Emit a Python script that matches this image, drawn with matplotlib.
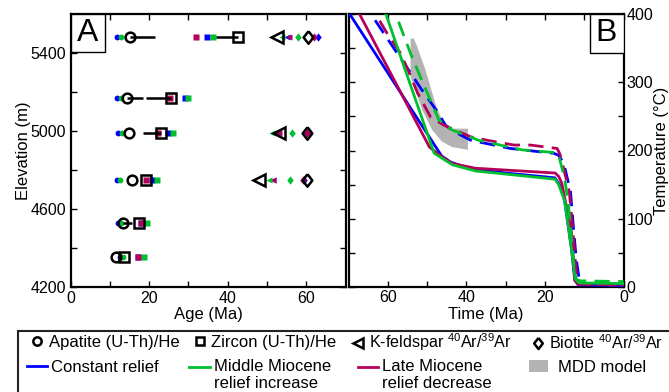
import numpy as np
import matplotlib
matplotlib.use("Agg")
import matplotlib.pyplot as plt
from matplotlib.lines import Line2D
from matplotlib.patches import Patch, Rectangle
from matplotlib.legend_handler import HandlerLine2D

plt.rcParams['font.family'] = ['Liberation Sans', 'DejaVu Sans']
plt.rcParams['mathtext.default'] = 'regular'

# ---------------- colours ----------------
C_BLUE = '#0000FF'
C_GREEN = '#00C030'
C_MAG = '#B5005A'
C_GRAY = '#B3B3B3'

# ---------------- Panel A data ----------------
elevation = [5480, 5170, 4990, 4750, 4530, 4355]
nan = np.nan
# observed ages (black open symbols)
apatite_obs = [15.2, 14.4, 14.9, 15.7, 13.3, 11.5]
apatite_err_hi = [6.4, 4.1, 0.0, 0.0, 2.4, 0.0]
zircon_obs = [42.7, 25.6, 23.0, 19.2, 17.5, 13.6]
zircon_err_lo = [5.7, 6.4, 4.6, 0.0, 0.0, 0.0]
kfs_obs = [52.6, nan, 53.0, 48.1, nan, nan]
bio_obs = [60.4, nan, 60.3, 60.2, nan, nan]
# modelled ages
apatite_const = [11.9, 11.9, 12.2, 11.9, 12.1, 12.5]
apatite_mid = [12.9, 12.9, 13.1, 12.7, 12.9, 13.3]
zircon_const = [34.7, 29.1, 24.7, 20.7, 18.0, 17.3]
zircon_late = [31.9, 25.2, 22.2, 19.2, 18.0, 17.3]
zircon_mid = [36.2, 29.8, 26.0, 21.9, 19.5, 18.6]
kfs_const = [55.1, nan, 52.6, 51.5, nan, nan]
kfs_late = [55.6, nan, 53.0, 51.5, nan, nan]
kfs_mid = [53.8, nan, 51.3, 50.5, nan, nan]
bio_const = [63.0, nan, 60.3, 59.5, nan, nan]
bio_late = [62.1, nan, 60.1, 59.2, nan, nan]
bio_mid = [57.9, nan, 56.5, 55.8, nan, nan]

# ---------------- Panel B data ----------------
const_solid_t = [72.0, 69.7, 46.3, 44.0, 40.0, 30.0, 17.5, 16.3, 15.0, 13.2, 12.4, 11.5, 0.0]
const_solid_T = [420, 400, 192, 183, 175, 167, 160, 150, 127, 54, 10, 3, 2]
late_solid_t = [70.0, 67.2, 49.4, 46.3, 43.6, 37.7, 17.4, 16.5, 15.7, 13.2, 12.4, 11.5, 0.0]
late_solid_T = [437, 400, 205, 191, 181, 174, 167, 162, 152, 79, 10, 4, 3]
mid_solid_t = [62.0, 60.5, 48.2, 46.0, 43.5, 37.7, 17.4, 16.5, 15.0, 13.2, 12.3, 11.3, 0.0]
mid_solid_T = [418, 400, 196, 188, 179, 170, 158, 150, 127, 54, 12, 6, 5]

const_dash_t = [66.0, 64.3, 57.9, 54.1, 51.6, 47.4, 45.3, 43.2, 38.9, 28.8, 21.2, 17.8, 16.5, 15.2, 13.5, 12.7, 12.0, 11.5, 11.1, 10.0, 0.0]
const_dash_T = [425, 400, 345, 313, 291, 257, 237, 228, 215, 203, 198, 196, 193, 181, 140, 84, 40, 20, 6, 4, 4]
late_dash_t = [65.0, 63.1, 60.1, 56.7, 54.1, 52.4, 49.1, 45.7, 38.9, 34.7, 27.9, 23.7, 16.9, 16.2, 15.3, 13.8, 13.0, 12.3, 11.8, 11.0, 0.0]
late_dash_T = [433, 400, 371, 342, 308, 284, 249, 237, 220, 215, 208, 208, 203, 195, 175, 140, 90, 40, 10, 4, 3]
mid_dash_t = [59.0, 58.0, 54.2, 51.2, 47.0, 43.6, 36.9, 25.9, 17.5, 16.6, 16.2, 15.0, 14.0, 13.2, 12.5, 12.0, 11.0, 0.0]
mid_dash_T = [427, 400, 342, 301, 245, 230, 215, 201, 197, 195, 186, 160, 120, 70, 25, 11, 9, 8]

mdd_t = [54.2, 54.2, 51.2, 48.7, 46.2, 43.6, 39.6, 39.6, 44.5, 46.2, 47.9, 50.4, 52.5, 53.4]
mdd_T = [364, 308, 259, 230, 213, 205, 201, 232, 232, 245, 269, 318, 352, 364]

# legend labels
lab_ap = 'Apatite (U-Th)/He'
lab_zr = 'Zircon (U-Th)/He'
lab_kf = 'K-feldspar $^{40}$Ar/$^{39}$Ar'
lab_bi = 'Biotite $^{40}$Ar/$^{39}$Ar'
lab_c = 'Constant relief'
lab_m = 'Middle Miocene\nrelief increase'
lab_l = 'Late Miocene\nrelief decrease'
lab_g = 'MDD model'

# ---------------- figure ----------------
W, H = 669, 392
fig = plt.figure(figsize=(W / 100, H / 100), dpi=100)

def fr(x0, y0, x1, y1):
    return [x0 / W, 1 - y1 / H, (x1 - x0) / W, (y1 - y0) / H]

axA = fig.add_axes(fr(70.5, 14, 345.5, 287))
axB = fig.add_axes(fr(348.5, 14, 623.5, 287))

for ax in (axA, axB):
    for s in ax.spines.values():
        s.set_linewidth(1.6)
    ax.tick_params(which='both', direction='in', length=4, width=1,
                   top=True, right=True, labelsize=11.5, pad=3)

# ---- Panel A ----
ms_small = 4.2
axA.plot(apatite_const, elevation, 'o', color=C_BLUE, ms=ms_small, mec='none', zorder=3)
axA.plot(apatite_mid, elevation, 'o', color=C_GREEN, ms=ms_small, mec='none', zorder=3)
axA.plot(zircon_const, elevation, 's', color=C_BLUE, ms=ms_small, mec='none', zorder=3)
axA.plot(zircon_mid, elevation, 's', color=C_GREEN, ms=ms_small, mec='none', zorder=3)
axA.plot(zircon_late, elevation, 's', color=C_MAG, ms=ms_small, mec='none', zorder=4)
axA.plot(kfs_const, elevation, '<', color=C_BLUE, ms=5, mec='none', zorder=3)
axA.plot(kfs_late, elevation, '<', color=C_MAG, ms=5, mec='none', zorder=4)
axA.plot(kfs_mid, elevation, '<', color=C_GREEN, ms=5, mec='none', zorder=5)
diam = [(0, 1), (0.78, 0), (0, -1), (-0.78, 0), (0, 1)]
axA.plot(bio_const, elevation, marker=diam, ls='none', color=C_BLUE, ms=6, mec='none', zorder=3)
axA.plot(bio_late, elevation, marker=diam, ls='none', color=C_MAG, ms=6, mec='none', zorder=4)
axA.plot(bio_mid, elevation, marker=diam, ls='none', color=C_GREEN, ms=6, mec='none', zorder=4)

axA.errorbar(apatite_obs, elevation, xerr=[np.zeros(6), apatite_err_hi], fmt='o',
             mfc='none', mec='k', mew=1.8, ms=7, ecolor='k', elinewidth=1.8, capsize=0, zorder=6)
axA.errorbar(zircon_obs, elevation, xerr=[zircon_err_lo, np.zeros(6)], fmt='s',
             mfc='none', mec='k', mew=1.8, ms=6.5, ecolor='k', elinewidth=1.8, capsize=0, zorder=6)
axA.plot(kfs_obs, elevation, '<', mfc='none', mec='k', mew=1.8, ms=8, zorder=6)
axA.plot(bio_obs, elevation, marker=diam, ls='none', mfc='none', mec='k', mew=1.8, ms=9, zorder=6)

axA.set_xlim(0, 70)
axA.set_ylim(4200, 5600)
axA.set_xticks([0, 20, 40, 60])
axA.set_xticks([10, 30, 50], minor=True)
axA.set_yticks([4200, 4600, 5000, 5400])
axA.set_yticks([4400, 4800, 5200], minor=True)
axA.set_xlabel('Age (Ma)', fontsize=12)
axA.set_ylabel('Elevation (m)', fontsize=12)
axA.xaxis.set_label_coords(0.5, -0.075)
axA.yaxis.set_label_coords(-0.145, 0.5)

axA.add_patch(Rectangle((0, 1 - 38 / 273), 34.5 / 275, 38 / 273, transform=axA.transAxes,
                        fc='w', ec='k', lw=1.0, zorder=10))
axA.text(17.25 / 275, 1 - 19 / 273, 'A', transform=axA.transAxes, ha='center', va='center',
         fontsize=23, zorder=11)

# ---- Panel B ----
axB.fill(mdd_t, mdd_T, color=C_GRAY, lw=0, zorder=1)
lw = 2.0
dash = (0, (5.5, 3))
axB.plot(const_solid_t, const_solid_T, color=C_BLUE, lw=lw, zorder=3)
axB.plot(late_solid_t, late_solid_T, color=C_MAG, lw=lw, zorder=3)
axB.plot(mid_solid_t, mid_solid_T, color=C_GREEN, lw=lw, zorder=4)
axB.plot(const_dash_t, const_dash_T, color=C_BLUE, lw=lw, ls=dash, zorder=3)
axB.plot(late_dash_t, late_dash_T, color=C_MAG, lw=lw, ls=dash, zorder=3)
axB.plot(mid_dash_t, mid_dash_T, color=C_GREEN, lw=lw, ls=dash, zorder=3)

axB.set_xlim(70, 0)
axB.set_ylim(0, 400)
axB.set_xticks([0, 20, 40, 60])
axB.set_xticks([10, 30, 50], minor=True)
axB.set_yticks([0, 100, 200, 300, 400])
axB.set_yticks([50, 150, 250, 350], minor=True)
axB.tick_params(which='both', labelleft=False, labelright=True, pad=2)
axB.set_xlabel('Time (Ma)', fontsize=12)
axB.xaxis.set_label_coords(0.5, -0.075)
axB.yaxis.set_label_position('right')
axB.set_ylabel('Temperature (°C)', fontsize=12)
axB.yaxis.set_label_coords(1.112, 0.5)

axB.add_patch(Rectangle((1 - 34 / 275, 1 - 38.7 / 273), 34 / 275, 38.7 / 273, transform=axB.transAxes,
                        fc='w', ec='k', lw=1.0, zorder=10))
axB.text(1 - 17 / 275, 1 - 19.3 / 273, 'B', transform=axB.transAxes, ha='center', va='center',
         fontsize=23, zorder=11)

# ---- Legend ----
fig.patches.append(Rectangle((18 / W, -0.1), 1.0, 0.1 + 1 - 331 / H, transform=fig.transFigure,
                             fill=False, ec='#222222', lw=1.5))

class ShiftedLine(HandlerLine2D):
    def __init__(self, dy=0.0, **kw):
        super().__init__(**kw)
        self.dy = dy

    def create_artists(self, legend, orig_handle, xdescent, ydescent, width, height, fontsize, trans):
        return super().create_artists(legend, orig_handle, xdescent, ydescent - 2 * self.dy,
                                      width, height, fontsize, trans)

EM = 12 * 100 / 72.0  # px per em

def entry(handle, label, x_start, y_center, hl_px, pad_px, handler=None, fs=12):
    kw = {}
    if handler is not None:
        kw['handler_map'] = {handle: handler}
    fig.legend([handle], [label], loc='center left',
               bbox_to_anchor=(x_start / W, 1 - y_center / H), frameon=False,
               borderpad=0, borderaxespad=0, fontsize=fs,
               handlelength=hl_px / (fs * 100 / 72.0), handletextpad=pad_px / (fs * 100 / 72.0), **kw)

h_ap = Line2D([], [], marker='o', ls='none', mfc='none', mec='k', mew=1.8, ms=6)
h_zr = Line2D([], [], marker='s', ls='none', mfc='none', mec='k', mew=1.8, ms=5.5)
h_kf = Line2D([], [], marker='<', ls='none', mfc='none', mec='k', mew=1.8, ms=7)
h_bi = Line2D([], [], marker=diam, ls='none', mfc='none', mec='k', mew=1.8, ms=8)
h_c = Line2D([], [], color=C_BLUE, lw=2)
h_m = Line2D([], [], color=C_GREEN, lw=2)
h_l = Line2D([], [], color=C_MAG, lw=2)
h_g = Patch(color=C_GRAY, lw=0)

y1 = 342.3
entry(h_ap, lab_ap, 36.7 - 5, y1, 10, 7)
entry(h_zr, lab_zr, 200 - 5, y1, 10, 6)
entry(h_kf, lab_kf, 358 - 5, y1, 10, 6, fs=11.6)
entry(h_bi, lab_bi, 537.7 - 5, y1, 10, 6, fs=11.6)

y2 = 367.3
entry(h_c, lab_c, 27, y2, 20, 4)
entry(h_m, lab_m, 189, y2 + 8, 21, 4, ShiftedLine(dy=6.0))
entry(h_l, lab_l, 358, y2 + 8, 20, 4, ShiftedLine(dy=6.0))
entry(h_g, lab_g, 529, y2, 19, 10)

fig.savefig('out.png', dpi=100)
